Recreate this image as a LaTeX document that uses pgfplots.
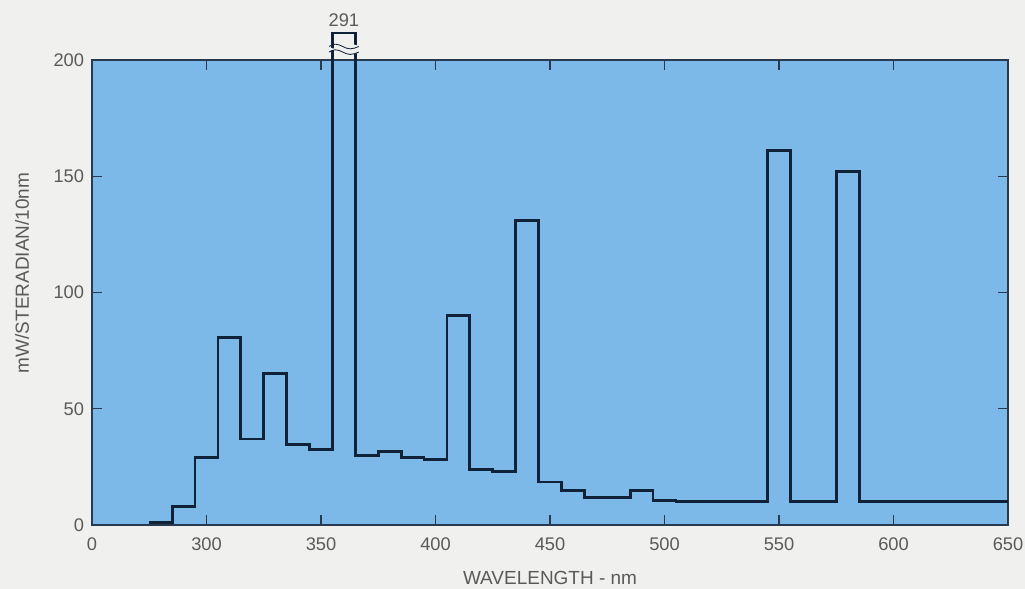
\documentclass[border=0pt]{standalone}
\usepackage{fontspec}
\setmainfont{Liberation Sans}
\usepackage{pgfplots}
\pgfplotsset{compat=1.18}

\definecolor{pagebg}{RGB}{240,240,238}
\definecolor{panel}{RGB}{124,184,232}
\definecolor{stepcol}{RGB}{16,34,56}
\definecolor{framecol}{RGB}{40,58,80}
\definecolor{txtgray}{RGB}{90,90,90}

\begin{document}
\begin{tikzpicture}
% page is 1025 x 589 px at 0.025cm per px
\fill[pagebg] (0,0) rectangle (25.625,14.725);
\begin{axis}[
    at={(2.3cm,1.6cm)}, anchor=south west,
    scale only axis,
    width=22.9cm, height=11.625cm,
    xmin=250, xmax=650,
    ymin=0, ymax=200,
    clip=false,
    axis background/.style={fill=panel},
    axis line style={draw=framecol, line width=1.3pt},
    xtick={250,300,350,400,450,500,550,600,650},
    xticklabels={0,300,350,400,450,500,550,600,650},
    ytick={0,50,100,150,200},
    tick align=inside,
    tick pos=both,
    ticklabel pos=left,
    major tick length=0.25cm,
    tick style={draw=framecol, line width=0.9pt},
    /pgf/number format/assume math mode=true,
    ticklabel style={font=\fontsize{13}{15}\selectfont, text=txtgray},
    xticklabel style={yshift=-0.2cm},
    yticklabel style={xshift=-0.075cm},
    xlabel={WAVELENGTH - nm},
    ylabel={mW/STERADIAN/10nm},
    label style={font=\fontsize{13.5}{16}\selectfont, text=txtgray},
    xlabel style={at={(axis description cs:0.5,-0.114)}, anchor=center},
    ylabel style={at={(axis description cs:-0.0764,0.542)}, anchor=center},
]
% 10 nm bins, left edge and radiance; the 291 bin is drawn broken above the frame
\addplot[const plot, stepcol, line width=2pt, line join=miter,
         y filter/.expression={y>200 ? 211.6 : y}] coordinates {
 (275,1) (285,8) (295,29) (305,80.5) (315,37) (325,65) (335,34.5) (345,32.5)
 (355,291) (365,30) (375,31.5) (385,29) (395,28) (405,90) (415,24) (425,23)
 (435,131) (445,18.5) (455,15) (465,12) (475,12) (485,15) (495,10.5) (505,10)
 (545,161) (555,10) (575,152) (585,10) (650,10)
};
% break marks on the clipped 291 bar
\fill[pagebg] (axis cs:353,203.4) sin (axis cs:356.25,204.4) cos (axis cs:359.5,203.4)
  sin (axis cs:362.75,202.4) cos (axis cs:367,203.4) -- (axis cs:367,205.8)
  sin (axis cs:363.25,206.8) cos (axis cs:359.5,205.8) sin (axis cs:356.25,204.8)
  cos (axis cs:353,205.8) -- cycle;
\draw[stepcol, line width=0.6pt] (axis cs:353.5,203.4) sin (axis cs:356.25,204.4) cos (axis cs:359.5,203.4)
  sin (axis cs:362.75,202.4) cos (axis cs:366.5,203.4);
\draw[stepcol, line width=0.6pt] (axis cs:353.5,205.8) sin (axis cs:356.25,206.8) cos (axis cs:359.5,205.8)
  sin (axis cs:362.75,204.8) cos (axis cs:366.5,205.8);
\node[anchor=south, inner sep=2pt, font=\fontsize{13}{15}\selectfont, text=txtgray]
  at (axis cs:360,213) {291};
\end{axis}
\pgfresetboundingbox
\path[use as bounding box] (0,0) rectangle (25.625,14.725);
\end{tikzpicture}
\end{document}
